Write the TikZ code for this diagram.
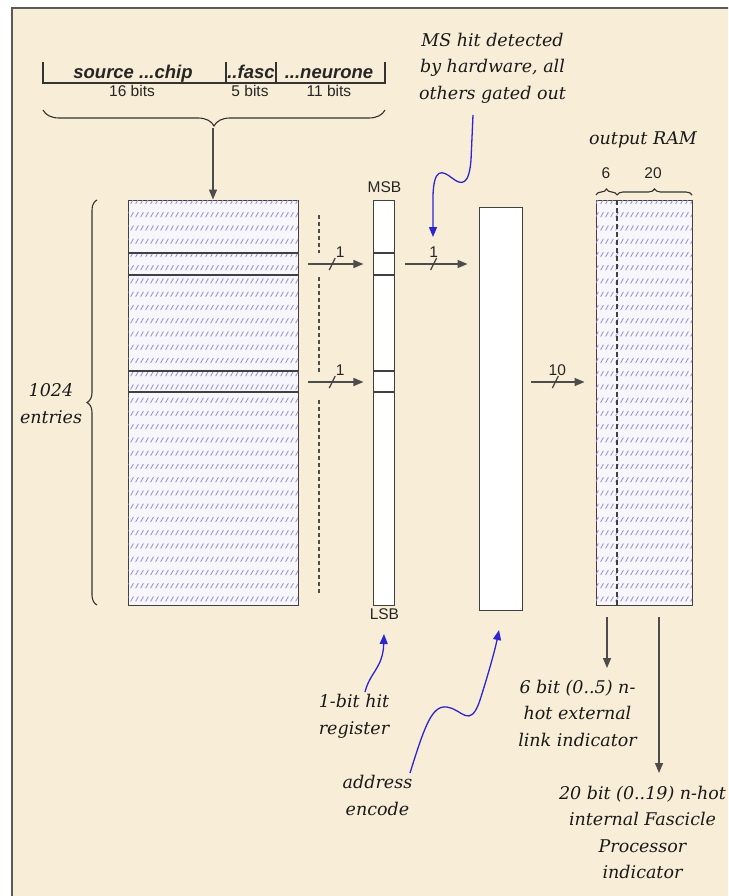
\documentclass[tikz,border=0pt]{standalone}
\usepackage{fontspec}
\setmainfont{DejaVu Serif}
\setsansfont{Liberation Sans}
\usetikzlibrary{arrows.meta, positioning, patterns, decorations.pathreplacing}

\definecolor{parchment}{RGB}{248,238,215}
\definecolor{hatchblue}{RGB}{150,140,210}
\definecolor{cellwhite}{RGB}{247,246,251}
\definecolor{calloutblue}{RGB}{45,35,215}

% rows of short slashes, as in the RAM blocks
\pgfdeclarepatternformonly{slashrows}{\pgfqpoint{-1pt}{-1pt}}{\pgfqpoint{6pt}{14.25pt}}{\pgfqpoint{5pt}{13.25pt}}{%
  \pgfsetlinewidth{0.8pt}%
  \pgfpathmoveto{\pgfqpoint{0.6pt}{3pt}}%
  \pgfpathlineto{\pgfqpoint{3.4pt}{8pt}}%
  \pgfusepath{stroke}}

\begin{document}
\begin{tikzpicture}[x=1pt, y=-1pt,
  every node/.style={inner sep=0pt},
  ramblock/.style={draw=black!75, line width=0.9pt, fill=cellwhite, postaction={pattern=slashrows, pattern color=hatchblue}},
  regblock/.style={draw=black!75, line width=0.9pt, fill=white},
  bus/.style={draw=black!70, line width=1.4pt, -{Triangle[length=10pt, width=8pt]}},
  busmark/.style={draw=black!75, line width=1.2pt},
  callout/.style={draw=calloutblue, line width=1.3pt, -{Triangle[length=10pt, width=8pt]}},
  note/.style={font=\fontsize{17.5}{26.5}\selectfont\itshape, align=center, text=black!90},
  bits/.style={font=\sffamily\fontsize{15.5}{17}\selectfont, text=black!85},
  field/.style={font=\sffamily\bfseries\itshape\fontsize{18.5}{20}\selectfont, text=black!85, anchor=base},
  brc/.style={decorate, draw=black!80, line width=1.1pt}]

  % page and frame
  \useasboundingbox (0,0) rectangle (728,896);
  \clip (0,0) rectangle (728,896);
  \fill[white] (0,0) rectangle (728,896);
  \draw[black!65, line width=1.6pt, fill=parchment] (12,8) rectangle (760,930);

  % source address word
  \draw[black!80, line width=1.3pt] (43,62) -- (43,83) -- (385,83) -- (385,62);
  \draw[black!80, line width=1.3pt] (226,62) -- (226,83) (276,62) -- (276,83);
  \node[field] (fchip) at (133,79) {source ...chip};
  \node[field] (ffasc) at (251,79) {..fasc};
  \node[field] (fneur) at (329,79) {...neurone};
  \node[bits, anchor=base] (bchip) at (132,97) {16 bits};
  \node[bits, anchor=base] (bfasc) at (250,97) {5 bits};
  \node[bits, anchor=base] (bneur) at (329,97) {11 bits};
  \draw[brc, decoration={brace, mirror, amplitude=16pt}] (43,110) -- (385,110);
  \coordinate (hdrtip) at (213,128);

  % blocks
  \node[ramblock, minimum width=170pt, minimum height=405pt] (lut) at (213,402.5) {};
  \node[regblock, minimum width=21pt, minimum height=405pt, right=75pt of lut] (hitreg) {};
  \node[regblock, minimum width=43pt, minimum height=403pt] (enc) at (500.5,408.5) {};
  \node[ramblock, minimum width=96pt, minimum height=405pt] (oram) at (644,402.5) {};
  \foreach \ry in {253,275,371,392}
    \draw[black!75, line width=1.3pt] (lut.west |- 0,\ry) -- (lut.east |- 0,\ry)
      (hitreg.west |- 0,\ry) -- (hitreg.east |- 0,\ry);
  \draw[black!75, line width=1.1pt, dash pattern=on 5pt off 3pt] (617,200) -- (617,605);

  \node[bits, above=7pt of hitreg] (msb) {MSB};
  \node[bits, below=3pt of hitreg] (lsb) {LSB};

  \draw[brc, decoration={brace, amplitude=10pt}] (97,605) -- (97,200);
  \node[note] (entnote) at (51,403.5) {1024\\entries};

  \draw[brc, decoration={brace, amplitude=6pt}] (596,195) -- (617,195);
  \draw[brc, decoration={brace, amplitude=6pt}] (617,195) -- (692,195);
  \node[bits] (w6) at (606,173) {6};
  \node[bits] (w20) at (653,173) {20};
  \node[note] (ramnote) at (643,140) {output RAM};

  % gating line
  \draw[black!70, line width=1.6pt, dash pattern=on 4pt off 3pt]
    (319,215) -- (319,253) (319,277) -- (319,372) (319,400) -- (319,595);

  % buses
  \draw[bus] (hdrtip) -- (lut.north);
  \coordinate (rowA) at (0,264);
  \coordinate (rowB) at (0,382);
  \foreach \r in {rowA,rowB} {
    \draw[bus, shorten <=10pt, shorten >=10pt] (lut.east |- \r) -- coordinate[pos=0.45] (s) (hitreg.west |- \r);
    \draw[busmark] ([shift={(-3,6)}]s) -- ([shift={(3,-6)}]s);
    \node[bits] at ([shift={(8,-12)}]s) {1};
  }
  \draw[bus, shorten <=10pt, shorten >=11pt] (hitreg.east |- rowA) -- coordinate[pos=0.46] (s2) (enc.west |- rowA);
  \draw[busmark] ([shift={(-3,6)}]s2) -- ([shift={(3,-6)}]s2);
  \node[bits] at ([shift={(0,-12)}]s2) {1};
  \draw[bus, shorten <=9pt, shorten >=11pt] (enc.east |- rowB) -- coordinate[pos=0.45] (s3) (oram.west |- rowB);
  \draw[busmark] ([shift={(-3,6)}]s3) -- ([shift={(3,-6)}]s3);
  \node[bits] at ([shift={(2,-12)}]s3) {10};

  \coordinate (extend) at (607,668);
  \coordinate (intend) at (659,773);
  \draw[bus, shorten <=12pt] (oram.south -| extend) -- (extend);
  \draw[bus, shorten <=12pt] (oram.south -| intend) -- (intend);

  % notes
  \node[note] (msnote) at (492.5,68) {MS hit detected\\by hardware, all\\others gated out};
  \node[note] (regnote) at (354,716.5) {1-bit hit\\register};
  \node[note] (encnote) at (377.5,795.5) {address\\encode};
  \node[note] (extnote) at (577.5,713) {6 bit (0..5) n-\\hot external\\link indicator};
  \node[note] (intnote) at (642.5,832.5) {20 bit (0..19) n-hot\\internal Fascicle\\Processor\\indicator};

  % callouts
  \coordinate (mstip) at (433,237);
  \coordinate (regtip) at (384,634);
  \coordinate (enctip) at (499,630);
  \draw[callout] (473,115) -- (471,160) .. controls (469,185) and (462,186) .. (452,178)
    .. controls (442,170) and (434,168) .. (433,195) -- (mstip);
  \draw[callout] (365,692) .. controls (370,672) and (383,668) .. (regtip);
  \draw[callout] (410,773) .. controls (425,725) and (432,705) .. (447,707)
    .. controls (462,709) and (470,730) .. (480,700) .. controls (488,675) and (495,650) .. (enctip);
\end{tikzpicture}
\end{document}
